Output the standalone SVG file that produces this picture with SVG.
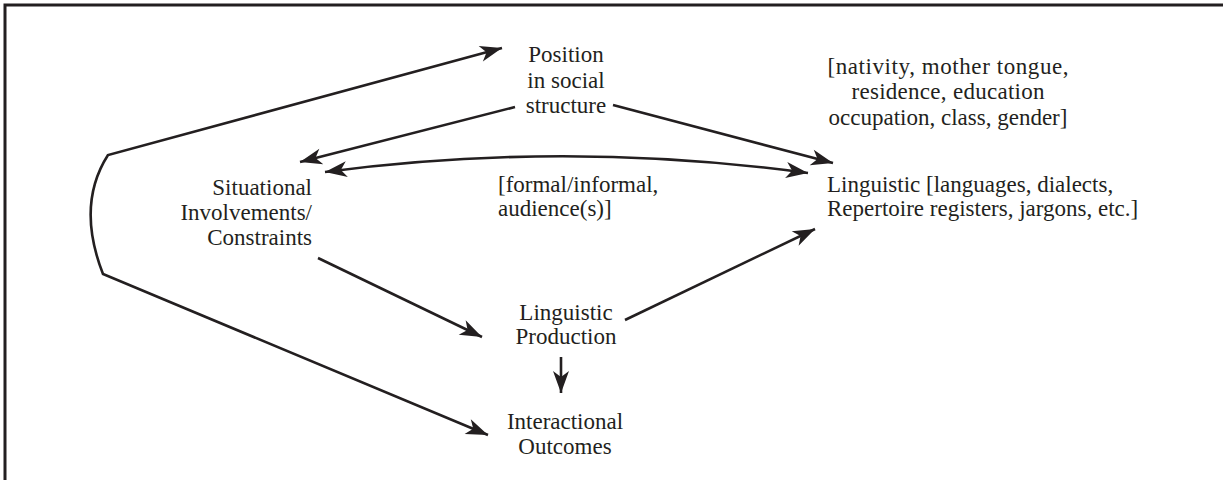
<svg xmlns="http://www.w3.org/2000/svg" width="1223" height="480" viewBox="0 0 1223 480">
<style>
text{font-family:"Liberation Serif","Times New Roman",serif;font-size:23px;fill:#231f20}
.c{text-anchor:middle}
.r{text-anchor:end}
.ln{fill:none;stroke:#231f20;stroke-width:2.6}
.frame{fill:none;stroke:#231f20;stroke-width:3}
</style>
<defs>
<marker id="ah" viewBox="-24 -10 26 20" refX="0" refY="0" markerWidth="26" markerHeight="20" markerUnits="userSpaceOnUse" orient="auto-start-reverse">
<path d="M0,0 L-22,-8 L-16,0 L-22,8 Z" fill="#231f20"/>
</marker>
</defs>
<rect width="1223" height="480" fill="#fff"/>
<path class="frame" d="M5,480 L5,5 L1223,5"/>
<g id="connectors">
<path class="ln" d="M488,435 L103,274 Q76,205 108,155 L502,48" marker-start="url(#ah)" marker-end="url(#ah)"/>
<path class="ln" d="M515,107 L300,162" marker-end="url(#ah)"/>
<path class="ln" d="M613,105 L833,163" marker-end="url(#ah)"/>
<path class="ln" d="M325,172 Q566,140 808,173" marker-start="url(#ah)" marker-end="url(#ah)"/>
<path class="ln" d="M318,258 L482,337" marker-end="url(#ah)"/>
<path class="ln" d="M625,320 L815,229" marker-end="url(#ah)"/>
<path class="ln" d="M561,357 L561,393" marker-end="url(#ah)"/>
</g>
<g id="position">
<text class="c" x="566" y="62">Position</text>
<text class="c" x="566" y="88">in social</text>
<text class="c" x="566" y="113">structure</text>
</g>
<g id="attributes">
<text class="c" x="948" y="74" textLength="241" lengthAdjust="spacing">[nativity, mother tongue,</text>
<text class="c" x="948" y="99" textLength="193" lengthAdjust="spacing">residence, education</text>
<text class="c" x="948" y="125">occupation, class, gender]</text>
</g>
<g id="situational">
<text class="r" x="312" y="195">Situational</text>
<text class="r" x="312" y="220">Involvements/</text>
<text class="r" x="312" y="245">Constraints</text>
</g>
<g id="formal">
<text x="498" y="192">[formal/informal,</text>
<text x="498" y="216">audience(s)]</text>
</g>
<g id="repertoire">
<text x="827" y="192">Linguistic [languages, dialects,</text>
<text x="827" y="216">Repertoire registers, jargons, etc.]</text>
</g>
<g id="production">
<text class="c" x="566" y="320">Linguistic</text>
<text class="c" x="566" y="344">Production</text>
</g>
<g id="outcomes">
<text class="c" x="565" y="429">Interactional</text>
<text class="c" x="565" y="454">Outcomes</text>
</g>
</svg>
